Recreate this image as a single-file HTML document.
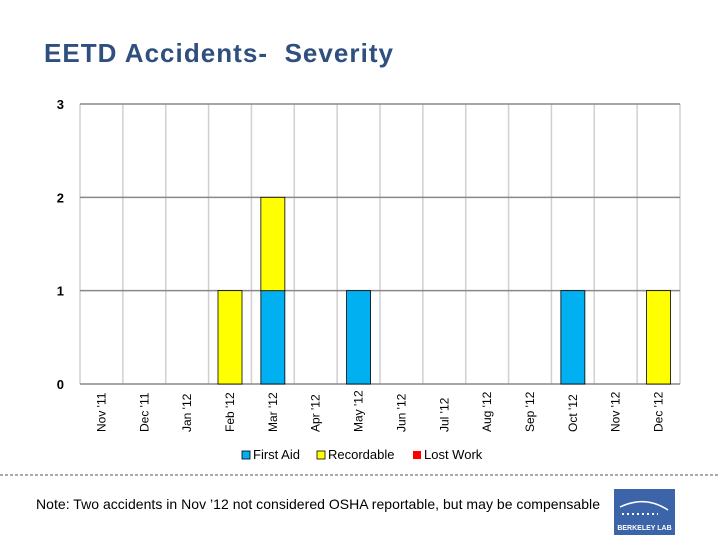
<!DOCTYPE html>
<html><head><meta charset="utf-8"><style>
body{margin:0;background:#fff;width:720px;height:540px;overflow:hidden;font-family:"Liberation Sans",sans-serif}
</style></head><body>
<svg width="720" height="540" id="svg" font-family="Liberation Sans, sans-serif">
<text x="44" y="62" font-size="26" font-weight="bold" fill="#2f4f7f" style="white-space:pre" textLength="349">EETD Accidents-  Severity</text>
<g id="grid"></g><g id="bars"></g><g id="labels"></g>
<g>
<rect x="242" y="451" width="8" height="8" fill="#00b0f0" stroke="#000" stroke-width="0.8"/>
<text x="253" y="459" font-size="13">First Aid</text>
<rect x="317" y="451" width="8" height="8" fill="#ffff00" stroke="#000" stroke-width="0.8"/>
<text x="328" y="459" font-size="13">Recordable</text>
<rect x="413" y="451" width="8" height="8" fill="#ff0000"/>
<text x="424" y="459" font-size="13">Lost Work</text>
</g>
<line x1="0" y1="475" x2="720" y2="475" stroke="#555" stroke-dasharray="3,2"/>
<text x="36" y="509" font-size="14" textLength="564">Note: Two accidents in Nov ’12 not considered OSHA reportable, but may be compensable</text>
<g>
<rect x="614" y="489" width="61" height="46" fill="#3c64a8"/>
<path d="M620 507 Q645 495 668 510" stroke="#fff" fill="none" stroke-width="1.5"/>
<line x1="622" y1="514" x2="658" y2="514" stroke="#fff" stroke-dasharray="2,3" stroke-width="2"/>
<text x="644.5" y="530" font-size="7" font-weight="bold" fill="#fff" text-anchor="middle">BERKELEY LAB</text>
</g>
</svg>
<script>
const categories=["Nov '11","Dec '11","Jan '12","Feb '12","Mar '12","Apr '12","May '12","Jun '12","Jul '12","Aug '12","Sep '12","Oct '12","Nov '12","Dec '12"];
const firstAid=[0,0,0,0,1,0,1,0,0,0,0,1,0,0];
const recordable=[0,0,0,1,1,0,0,0,0,0,0,0,0,1];
const lostWork=[0,0,0,0,0,0,0,0,0,0,0,0,0,0];
const yTicks=[0,1,2,3];
const NS="http://www.w3.org/2000/svg";
const X0=80,X1=680,Y0=384,Y1=104,YMAX=3;
const bw=(X1-X0)/categories.length;
const y=v=>Y0-(v/YMAX)*(Y0-Y1);
const xc=i=>X0+bw*(i+0.5);
function mk(t,a,p){const e=document.createElementNS(NS,t);for(const k in a)e.setAttribute(k,a[k]);p.appendChild(e);return e;}
const grid=document.getElementById('grid'),bars=document.getElementById('bars'),labels=document.getElementById('labels');
for(let i=0;i<=categories.length;i++){const l=mk('line',{x1:X0+bw*i,x2:X0+bw*i,y1:Y1,y2:Y0,stroke:'#d0d0d0','stroke-width':1.5},grid);

}
yTicks.forEach(t=>{const l=mk('line',{x1:X0,x2:X1,y1:y(t),y2:y(t),stroke:'#888','stroke-width':1.5},grid);


const tx=mk('text',{x:64,y:y(t)+5,'font-size':13,'font-weight':'bold','text-anchor':'end'},labels);tx.textContent=t;

});
categories.forEach((c,i)=>{
 let base=0;
 [[firstAid,'#00b0f0','first-aid'],[recordable,'#ffff00','recordable'],[lostWork,'#ff0000','lost-work']].forEach(([arr,col,nm])=>{
  const v=arr[i]; if(v>0){const r=mk('rect',{x:xc(i)-12,y:y(base+v),width:24,height:y(base)-y(base+v),fill:col,stroke:'#000','stroke-width':0.8},bars);
  
  }
  base+=v;});
 const tx=mk('text',{transform:`translate(${xc(i)+4},432) rotate(-90)`,'font-size':12},labels);tx.textContent=c;
 
 
});
</script>
</body></html>
